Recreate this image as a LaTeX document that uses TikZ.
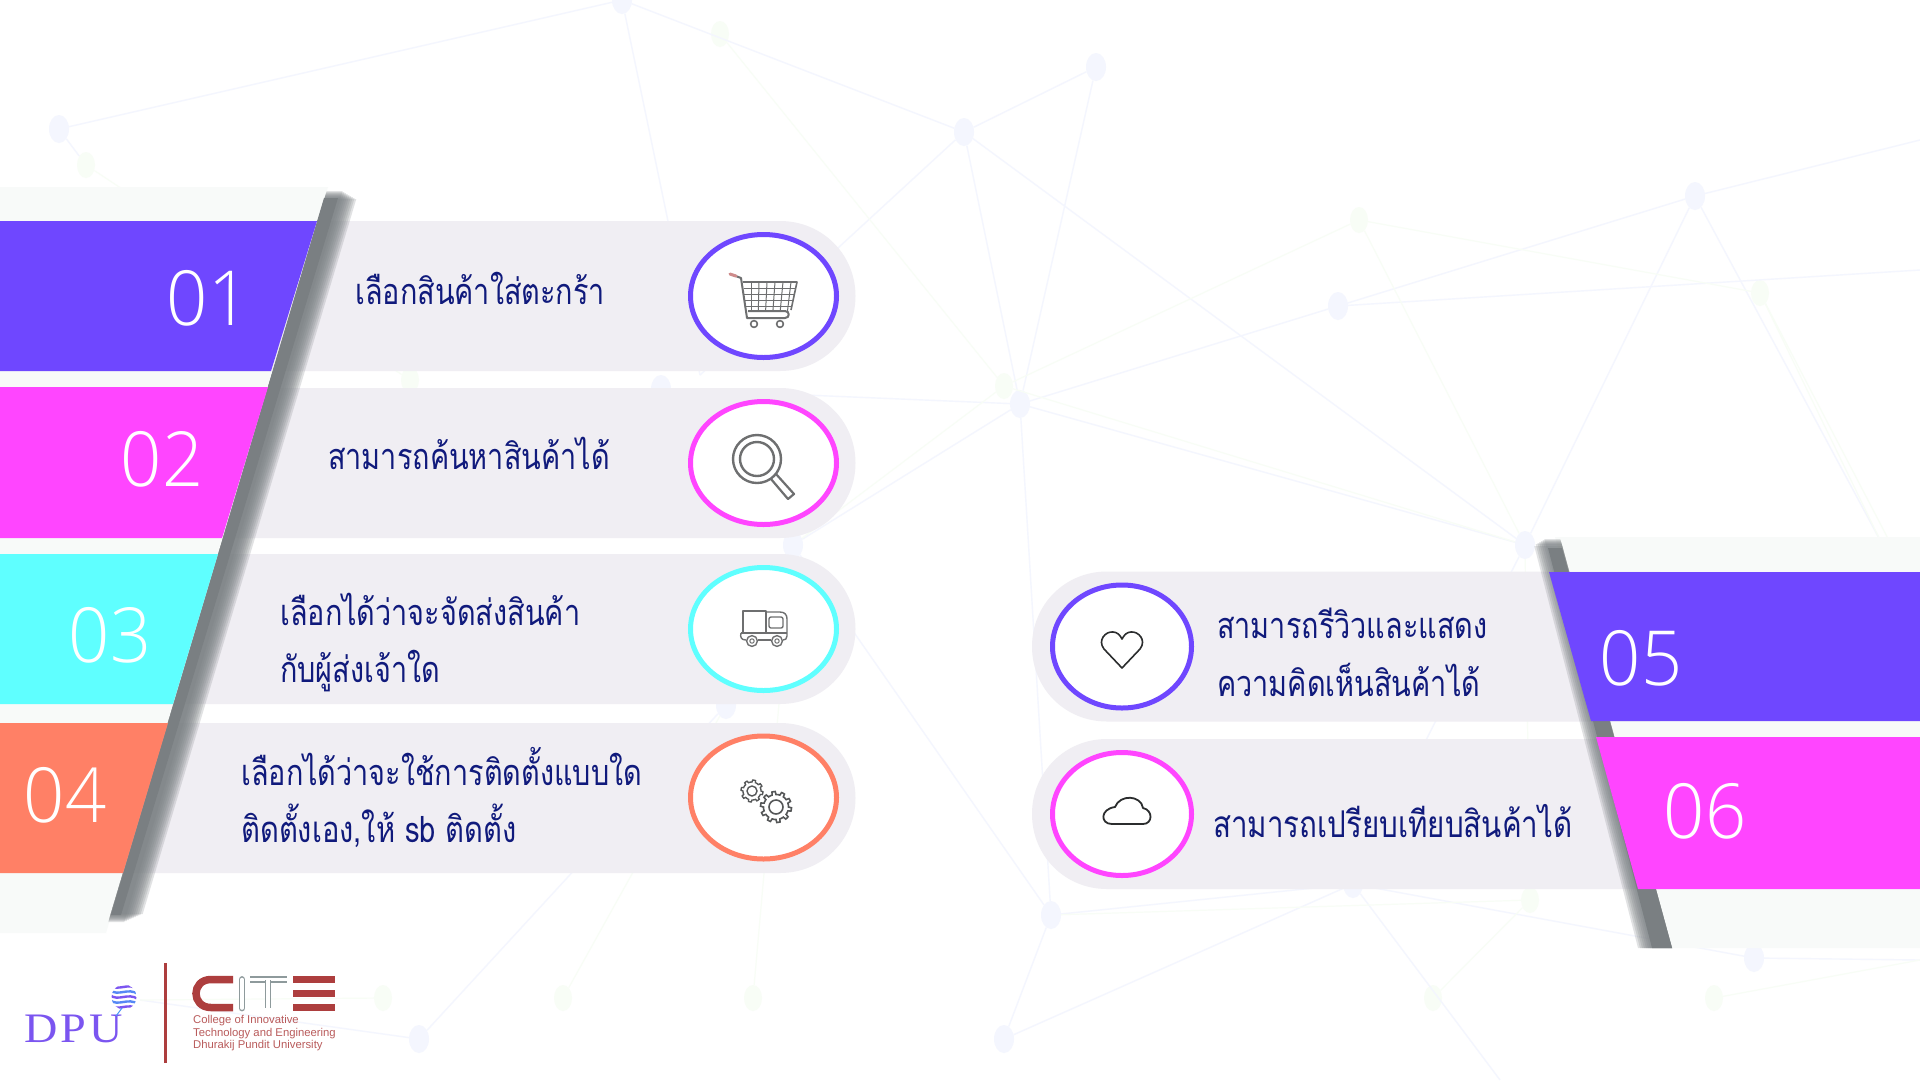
\documentclass[tikz,border=0pt]{standalone}
\usepackage{fontspec}
\usetikzlibrary{shapes.geometric}
\setmainfont{Open Sans}
\newfontfamily\thaifont[Script=Thai,FakeStretch=.8]{Loma}
\newfontfamily\numfont[UprightFont=* Light,FakeStretch=.95]{Open Sans}
\newfontfamily\dpufont[LetterSpace=8,FakeStretch=1.1]{Liberation Serif}
\newfontfamily\citefont{Liberation Sans}
\definecolor{cpurple}{HTML}{6F47FF}
\definecolor{cmagenta}{HTML}{FF45FF}
\definecolor{ccyan}{HTML}{5FFFFF}
\definecolor{ccoral}{HTML}{FF8066}
\definecolor{cpill}{HTML}{F0EEF3}
\definecolor{cback}{HTML}{F8FAF9}
\definecolor{cshade}{HTML}{7A7F82}
\definecolor{cnavy}{HTML}{101A7C}
\definecolor{cicon}{HTML}{6E6F70}
\definecolor{cdark}{HTML}{2B2D2E}
\definecolor{cnetb}{HTML}{F4F6FE}
\definecolor{cnetg}{HTML}{F8FDF6}
\definecolor{ccite}{HTML}{AD3E3E}
\definecolor{cgrey}{HTML}{8E9A9C}
\definecolor{cdpu}{HTML}{7B55F0}

\begin{document}
\begin{tikzpicture}[
    x=1pt, y=-1pt,
    netb/.style={ellipse, fill=cnetb, minimum width=20pt, minimum height=28pt, inner sep=0pt},
    netg/.style={ellipse, fill=cnetg, minimum width=18pt, minimum height=26pt, inner sep=0pt},
    netlineb/.style={draw=cnetb, line width=1.4pt},
    netlineg/.style={draw=cnetg, line width=1.2pt},
    ring/.style={ellipse, fill=white, line width=5pt, minimum width=146pt, minimum height=123pt, inner sep=0pt},
    nummer/.style={anchor=base, text=white, font=\numfont\fontsize{76}{76}\selectfont},
    zeile/.style={anchor=base west, text=cnavy, inner sep=0pt, font=\thaifont\fontsize{36}{36}\selectfont},
    citezeile/.style={anchor=base west, text=ccite!85!white, inner sep=0pt, font=\citefont\fontsize{11.3}{11.3}\selectfont},
    iconline/.style={draw=cicon, line width=1.4pt, line join=round}
    ]

  \useasboundingbox (0,0) rectangle (1920,1080);
  \fill[white] (0,0) rectangle (1920,1080);

  % background net
  \foreach \name/\px/\py in {b1/59/129, b2/622/0, b3/964/132, b4/1096/67, b5/1338/306, b6/1695/196,
      b7/1020/404, b8/1525/545, b9/1051/915, b10/1353/884, b11/1754/958, b12/1004/1039,
      b13/419/1039, b14/793/545, b15/661/389, b16/726/705}
    \node at (\px,\py) (\name) [netb] {};
  \foreach \name/\px/\py in {g1/720/34, g2/1359/220, g3/1760/293, g4/1004/386, g5/86/165, g6/410/380,
      g7/563/998, g8/753/998, g9/383/998, g10/1433/998, g11/1714/998, g12/1530/900}
    \node at (\px,\py) (\name) [netg] {};
  \foreach \name/\px/\py in {e1/1920/140, e2/1880/540, e3/1920/600, e4/1500/1080, e5/1920/960, e6/700/375, e7/140/1000, e8/1200/1080, e9/1920/270}
    \coordinate (\name) at (\px,\py);

  \foreach \a/\b in {b1/b2, b2/b3, b3/b4, b3/b7, b4/b7, b3/b8, b7/b5, b5/b6, b7/b8, b6/b8, b6/e1, b6/e2,
      b7/b14, b7/b15, b2/e6, b3/e6, b8/b10, b14/b9, b9/b10, b9/b12, b10/b11, b10/b12, b16/b13, b13/e7,
      b9/b7, b10/e4, b11/e5, b5/e9, b1/g5}
    \path [netlineb] (\a) edge (\b);
  \foreach \a/\b in {g1/g4, g2/g3, g2/g4, g3/e3, g3/e2, g2/b8, g4/b14, g4/b8, g5/g6, g7/b16, g8/b14, g9/e7, g10/g12, g11/e5, g12/b8, g12/b9}
    \path [netlineg] (\a) edge (\b);

  % pale panels behind the bars
  \fill[cback] (0,187) -- (328,187) -- (106,933) -- (0,933) -- cycle;
  \fill[cback] (1555,537) -- (1920,537) -- (1920,948) -- (1668,948) -- cycle;

  % pills
  \foreach \c in {296,463,629,798} {
    \fill[cpill] (60,\c-75) -- (780,\c-75) .. controls (822,\c-75) and (855.5,\c-42) .. (855.5,\c)
        .. controls (855.5,\c+42) and (822,\c+75) .. (780,\c+75) -- (60,\c+75) -- cycle;
  }
  \foreach \c in {646.5,814} {
    \fill[cpill] (1660,\c-75) -- (1107,\c-75) .. controls (1065,\c-75) and (1032,\c-42) .. (1032,\c)
        .. controls (1032,\c+42) and (1065,\c+75) .. (1107,\c+75) -- (1660,\c+75) -- cycle;
  }

  % grey slanted strips
  \foreach \w/\d in {32/9, 30/8, 28/7, 26/6, 24/5, 22/4, 20/3, 18/2, 16/1}
    \fill[cshade, opacity=.22] (327-.3*\d,190+\d) -- (327-.3*\d+\w,190+\d) -- (108+.3*\d+\w,923-\d) -- (108+.3*\d,923-\d) -- cycle;
  \fill[cshade] (324,198) -- (338,198) -- (121,915) -- (111,915) -- cycle;
  \foreach \w/\d in {28/8, 26/6, 24/5, 22/4, 20/3, 18/2, 16/1}
    \fill[cshade, opacity=.22] (1560-\w+.28*\d,538+\d) -- (1560+.28*\d,538+\d) -- (1672,948) -- (1672-\w-6,948) -- cycle;
  \fill[cshade] (1548,548) -- (1562,548) -- (1672,948) -- (1652,948) -- cycle;

  % number bars
  \fill[cpurple] (0,221) -- (317,221) -- (271,371) -- (0,371) -- cycle;
  \fill[cmagenta] (0,387) -- (268,387) -- (222,538) -- (0,538) -- cycle;
  \fill[ccyan] (0,554) -- (218,554) -- (173,704) -- (0,704) -- cycle;
  \fill[ccoral] (0,723) -- (168,723) -- (123,873) -- (0,873) -- cycle;
  \fill[cpurple] (1549,572) -- (1920,572) -- (1920,721) -- (1591,721) -- cycle;
  \fill[cmagenta] (1596,737) -- (1920,737) -- (1920,889) -- (1638,889) -- cycle;

  \node at (208,325) (num1) [nummer] {01};
  \node at (162,486) (num2) [nummer] {02};
  \node at (110,662) (num3) [nummer] {03};
  \node at (65,822) (num4) [nummer] {04};
  \node at (1641,685) (num5) [nummer] {05};
  \node at (1705,838) (num6) [nummer] {06};

  % rings
  \node at (763.5,296) (ring1) [ring, draw=cpurple] {};
  \node at (763.5,463) (ring2) [ring, draw=cmagenta] {};
  \node at (763.5,629) (ring3) [ring, draw=ccyan] {};
  \node at (763.5,797.5) (ring4) [ring, draw=ccoral] {};
  \node at (1122,646.5) (ring5) [ring, draw=cpurple, minimum width=139pt] {};
  \node at (1122,814) (ring6) [ring, draw=cmagenta, minimum width=139pt] {};

  % texts
  \node at (355,304) (text1) [zeile] {เลือกสินค้าใส่ตะกร้า};
  \node at (328,469) (text2) [zeile] {สามารถค้นหาสินค้าได้};
  \node at (280,625) (text3a) [zeile] {เลือกได้ว่าจะจัดส่งสินค้า};
  \node at (280,682) (text3b) [zeile] {กับผู้ส่งเจ้าใด};
  \node at (241,785) (text4a) [zeile] {เลือกได้ว่าจะใช้การติดตั้งแบบใด};
  \node at (241,842) (text4b) [zeile, font=\thaifont\fontsize{36.4}{36}\selectfont] {ติดตั้งเอง,ให้ sb ติดตั้ง};
  \node at (1217,638) (text5a) [zeile] {สามารถรีวิวและแสดง};
  \node at (1217,696) (text5b) [zeile] {ความคิดเห็นสินค้าได้};
  \node at (1213,837) (text6) [zeile, font=\thaifont\fontsize{36.9}{36}\selectfont] {สามารถเปรียบเทียบสินค้าได้};

  % cart
  \draw[iconline, line width=2pt] (733,275) -- (741,278) -- (747,318) -- (785,318) .. controls (790,318) and (790,311) .. (785,311) -- (748,311);
  \draw[ccite!60!white, line width=3pt, line cap=round] (730,274) -- (736,276);
  \draw[iconline, line width=1.6pt] (743,282) -- (797,282) -- (791,310);
  \foreach \i in {0,...,5}
    \draw[iconline, line width=1pt] (751+8*\i,282) -- (751+7.3*\i,311);
  \foreach \j in {0,1,2,3}
    \draw[iconline, line width=1pt] (743.5+.6*\j,288+6*\j) -- (796-1.2*\j,288+6*\j);
  \draw[iconline, line width=1.6pt] (754,324) circle (3.4);
  \draw[iconline, line width=1.6pt] (780,324) circle (3.4);

  % lens
  \draw[iconline, line width=2.4pt] (757,459) circle (24);
  \draw[iconline, line width=2.4pt] (757,459) circle (17);
  \draw[iconline, line width=2.2pt] (771,479) -- (788,499) -- (794,494) -- (776,474);

  % truck
  \draw[iconline] (743,633) -- (743,611) -- (766,611) -- (766,633);
  \draw[iconline] (766,612) -- (780,612) .. controls (785,612) and (787,615) .. (787,619) -- (787,636) .. controls (787,639) and (785,640) .. (783,640);
  \draw[iconline] (741,633) -- (766,633) -- (787,633);
  \draw[iconline] (741,633) .. controls (740,637) and (741,640) .. (746,640);
  \draw[iconline] (758,640) -- (771,640);
  \draw[iconline, rounded corners=2pt] (769,617) rectangle (783,628);
  \foreach \wx in {752,777} {
    \draw[iconline, fill=white] (\wx,641) circle (5.4);
    \draw[iconline, line width=1pt] (\wx,641) circle (2.2);
  }

  % gears
  \draw[draw=cdark!80, line width=1.4pt] plot[samples=97, domain=0:360, variable=\a] ({752+(sin(8*\a)>0 ? 11 : 9)*cos(\a)}, {791+(sin(8*\a)>0 ? 11 : 9)*sin(\a)}) -- cycle;
  \draw[draw=cdark!80, line width=1.4pt] (752,791) circle (5);
  \draw[draw=cdark!80, line width=1.6pt] plot[samples=121, domain=0:360, variable=\a] ({776+(sin(10*\a)>0 ? 15.5 : 12.5)*cos(\a)}, {807+(sin(10*\a)>0 ? 15.5 : 12.5)*sin(\a)}) -- cycle;
  \draw[draw=cdark!80, line width=1.6pt] (776,807) circle (7);

  % heart
  \draw[cdark, line width=1.6pt, line join=round] (1122,668) -- (1104,649)
     .. controls (1097,640) and (1106,631) .. (1113,632)
     .. controls (1117,632) and (1120,635) .. (1122,639)
     .. controls (1124,635) and (1127,632) .. (1131,632)
     .. controls (1138,631) and (1147,640) .. (1140,649) -- cycle;

  % cloud
  \draw[cdark, line width=1.8pt, line join=round] (1112,824) -- (1143,824)
     .. controls (1153,824) and (1153,810) .. (1143,808)
     .. controls (1141,795) and (1120,794) .. (1115,807)
     .. controls (1100,809) and (1100,824) .. (1112,824) -- cycle;

  % logos
  \node at (24,1042) (dpu) [anchor=base west, inner sep=0pt, text=cdpu, font=\dpufont\fontsize{42}{42}\selectfont] {DPU};
  \begin{scope}
    \clip (124,997) circle (12.5);
    \foreach \yy/\cc in {987/cdpu, 992/cdpu!70!cyan, 997/cdpu, 1002/cdpu!70!cyan, 1007/cdpu}
      \draw[\cc, line width=2.4pt] (110,\yy-2) .. controls (118,\yy+5) and (128,\yy-5) .. (138,\yy+2);
  \end{scope}
  \draw[cdpu!60!cyan, line width=1pt] (122,1008) -- (116,1016);
  \coordinate (sep1) at (165,963);
  \coordinate (sep2) at (165,1063);
  \draw[ccite, line width=3pt] (sep1) -- (sep2);

  \draw[ccite, line width=7.5pt] (233,979.5) -- (211,979.5)
     .. controls (191,979.5) and (191,1007.5) .. (211,1007.5) -- (233,1007.5);
  \draw[cgrey, line width=1.6pt, double=white, double distance=3.6pt, line cap=round] (242,979.5) -- (242,1008);
  \draw[cgrey, line width=1.6pt, double=white, double distance=3.6pt, line join=round] (250,979.5) -- (287,979.5);
  \draw[cgrey, line width=1.6pt, double=white, double distance=3.6pt] (268,980) -- (268,1008);
  \foreach \yy in {979.5,993.5,1007.5}
    \draw[ccite, line width=7pt] (293,\yy) -- (335,\yy);

  \node at (193,1023) (cite1) [citezeile] {College of Innovative};
  \node at (193,1036) (cite2) [citezeile] {Technology and Engineering};
  \node at (193,1048) (cite3) [citezeile] {Dhurakij Pundit University};

\end{tikzpicture}
\end{document}
